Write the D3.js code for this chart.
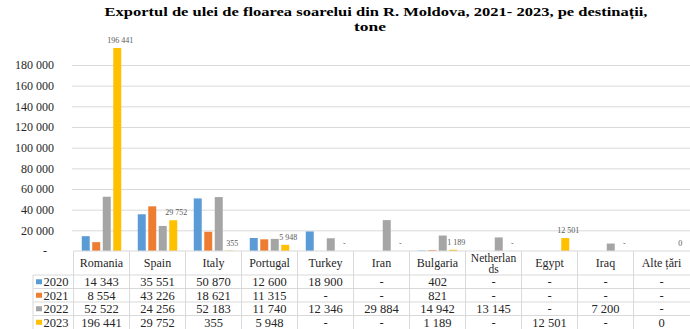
<!DOCTYPE html>
<html>
<head>
<meta charset="utf-8">
<script src="https://cdn.jsdelivr.net/npm/d3@7"></script>
<style>
  body { margin: 0; background: #fff; overflow: hidden; }
  svg text { font-family: "Liberation Serif", "Times New Roman", serif; }
</style>
</head>
<body>
<div id="chart"></div>
<script>
const categories = ["Romania", "Spain", "Italy", "Portugal", "Turkey", "Iran", "Bulgaria", "Netherlan\nds", "Egypt", "Iraq", "Alte țări"];
const years = ["2020", "2021", "2022", "2023"];

const v2020 = [14343, 35551, 50870, 12600, 18900, null, 402, null, null, null, null];
const v2021 = [8554, 43226, 18621, 11315, null, null, 821, null, null, null, null];
const v2022 = [52522, 24256, 52183, 11740, 12346, 29884, 14942, 13145, null, 7200, null];
const v2023 = [196441, 29752, 355, 5948, null, null, 1189, null, 12501, null, 0];

const yTicks = [0, 20000, 40000, 60000, 80000, 100000, 120000, 140000, 160000, 180000];

const colors = ["#5b9bd5", "#ed7d31", "#a5a5a5", "#ffc000"];
const seriesValues = [v2020, v2021, v2022, v2023];

const width = 690;
const height = 329;

const margin = { top: 65, left: 73.5, right: 0.5, bottom: 251 };

const rowTop = 275;
const rowH = 13.5;

const svg = d3.select("#chart")
  .append("svg")
  .attr("width", width)
  .attr("height", height);

const loc = d3.formatLocale({ decimal: ",", thousands: " ", grouping: [3] });
const fmt = loc.format(",d");

const x0 = d3.scaleBand()
  .domain(categories)
  .range([margin.left, width - margin.right]);

const groupW = 39.5;
const x1 = d3.scaleBand()
  .domain(years)
  .range([0, groupW])
  .paddingInner(0.24);

const groupOff = (x0.bandwidth() - groupW) / 2;

const yScale = d3.scaleLinear()
  .domain([0, 180000])
  .range([margin.bottom, margin.top]);

// gridlines
svg.append("g")
  .attr("transform", `translate(${margin.left - 1.5}, 0)`)
  .call(d3.axisLeft(yScale).tickValues(yTicks.slice(1)).tickSize(-(width - margin.left + 2)).tickFormat(""))
  .call(g => g.select(".domain").remove())
  .call(g => g.selectAll("line").attr("stroke", "#d9d9d9").attr("stroke-width", 1));

// y labels
svg.append("g")
  .attr("transform", "translate(54, 0)")
  .call(d3.axisLeft(yScale).tickValues(yTicks).tickSize(0).tickPadding(0)
    .tickFormat(d => d === 0 ? "-" : fmt(d)))
  .call(g => g.select(".domain").remove())
  .call(g => g.attr("font-family", null).attr("font-size", null))
  .call(g => g.selectAll("text")
    .style("font-size", "12px")
    .attr("fill", "#262626")
    .attr("dx", d => d === 0 ? -7 : 0));

// 2023 data labels (under the bars, as in the original)
svg.selectAll(".dlabel")
  .data(categories.map((c, i) => ({ c: c, v: v2023[i] })))
  .enter()
  .append("text")
  .attr("class", "dlabel")
  .attr("x", d => x0(d.c) + groupOff + x1("2023") + x1.bandwidth() / 2 + 3)
  .attr("y", d => yScale(d.v || 0) - 5)
  .attr("text-anchor", "middle")
  .style("font-size", "8px")
  .attr("fill", "#595959")
  .text(d => d.v === null ? "-" : fmt(d.v));

// bars
years.forEach(function(yr, si) {
  const data = categories.map((c, i) => ({ c: c, v: seriesValues[si][i] }))
    .filter(d => d.v !== null && d.v > 0);
  svg.selectAll(".bar-" + yr)
    .data(data)
    .enter()
    .append("rect")
    .attr("x", d => x0(d.c) + groupOff + x1(yr))
    .attr("width", x1.bandwidth())
    .attr("y", d => yScale(d.v))
    .attr("height", d => yScale(0) - yScale(d.v))
    .attr("fill", colors[si]);
});

// data table
const tbl = svg.append("g");
const lineColor = "#d9d9d9";

tbl.append("line")
  .attr("x1", margin.left).attr("x2", width)
  .attr("y1", margin.bottom).attr("y2", margin.bottom)
  .attr("stroke", lineColor);

for (let r = 0; r < 4; r++) {
  tbl.append("line")
    .attr("x1", 33).attr("x2", width)
    .attr("y1", rowTop + r * rowH).attr("y2", rowTop + r * rowH)
    .attr("stroke", lineColor);
}

tbl.selectAll(".vline")
  .data(categories)
  .enter()
  .append("line")
  .attr("x1", d => x0(d)).attr("x2", d => x0(d))
  .attr("y1", margin.bottom).attr("y2", height)
  .attr("stroke", lineColor);

tbl.append("line")
  .attr("x1", 33).attr("x2", 33)
  .attr("y1", rowTop).attr("y2", height)
  .attr("stroke", lineColor);

// header
categories.forEach(function(c) {
  const parts = c.split("\n");
  const cy = (margin.bottom + rowTop) / 2;
  parts.forEach(function(p, k) {
    tbl.append("text")
      .attr("x", x0(c) + x0.bandwidth() / 2)
      .attr("y", cy + (k - (parts.length - 1) / 2) * 11)
      .attr("dy", "0.35em")
      .attr("text-anchor", "middle")
      .style("font-size", parts.length > 1 ? "11.5px" : "12px")
      .attr("fill", "#262626")
      .text(p);
  });
});

// rows
years.forEach(function(yr, si) {
  const cy = rowTop + si * rowH + rowH / 2;
  tbl.append("rect")
    .attr("x", 36).attr("y", cy - 2.5)
    .attr("width", 6).attr("height", 5)
    .attr("fill", colors[si]);
  tbl.append("text")
    .attr("x", 43.5).attr("y", cy)
    .attr("dy", "0.35em")
    .style("font-size", "12.5px")
    .attr("fill", "#262626")
    .text(yr);
  categories.forEach(function(c, i) {
    const v = seriesValues[si][i];
    tbl.append("text")
      .attr("x", x0(c) + x0.bandwidth() / 2)
      .attr("y", cy)
      .attr("dy", "0.35em")
      .attr("text-anchor", "middle")
      .style("font-size", "12.5px")
      .attr("fill", "#262626")
      .text(v === null ? "-" : fmt(v));
  });
});

// title
svg.append("text")
  .attr("x", 376)
  .attr("y", 16)
  .attr("text-anchor", "middle")
  .attr("textLength", 543)
  .attr("lengthAdjust", "spacingAndGlyphs")
  .style("font-size", "13px")
  .style("font-weight", "bold")
  .attr("fill", "#000")
  .text("Exportul de ulei de floarea soarelui din R. Moldova, 2021- 2023, pe destinații,");

svg.append("text")
  .attr("x", 370)
  .attr("y", 31)
  .attr("text-anchor", "middle")
  .attr("textLength", 32)
  .attr("lengthAdjust", "spacingAndGlyphs")
  .style("font-size", "13px")
  .style("font-weight", "bold")
  .attr("fill", "#000")
  .text("tone");
</script>
</body>
</html>
